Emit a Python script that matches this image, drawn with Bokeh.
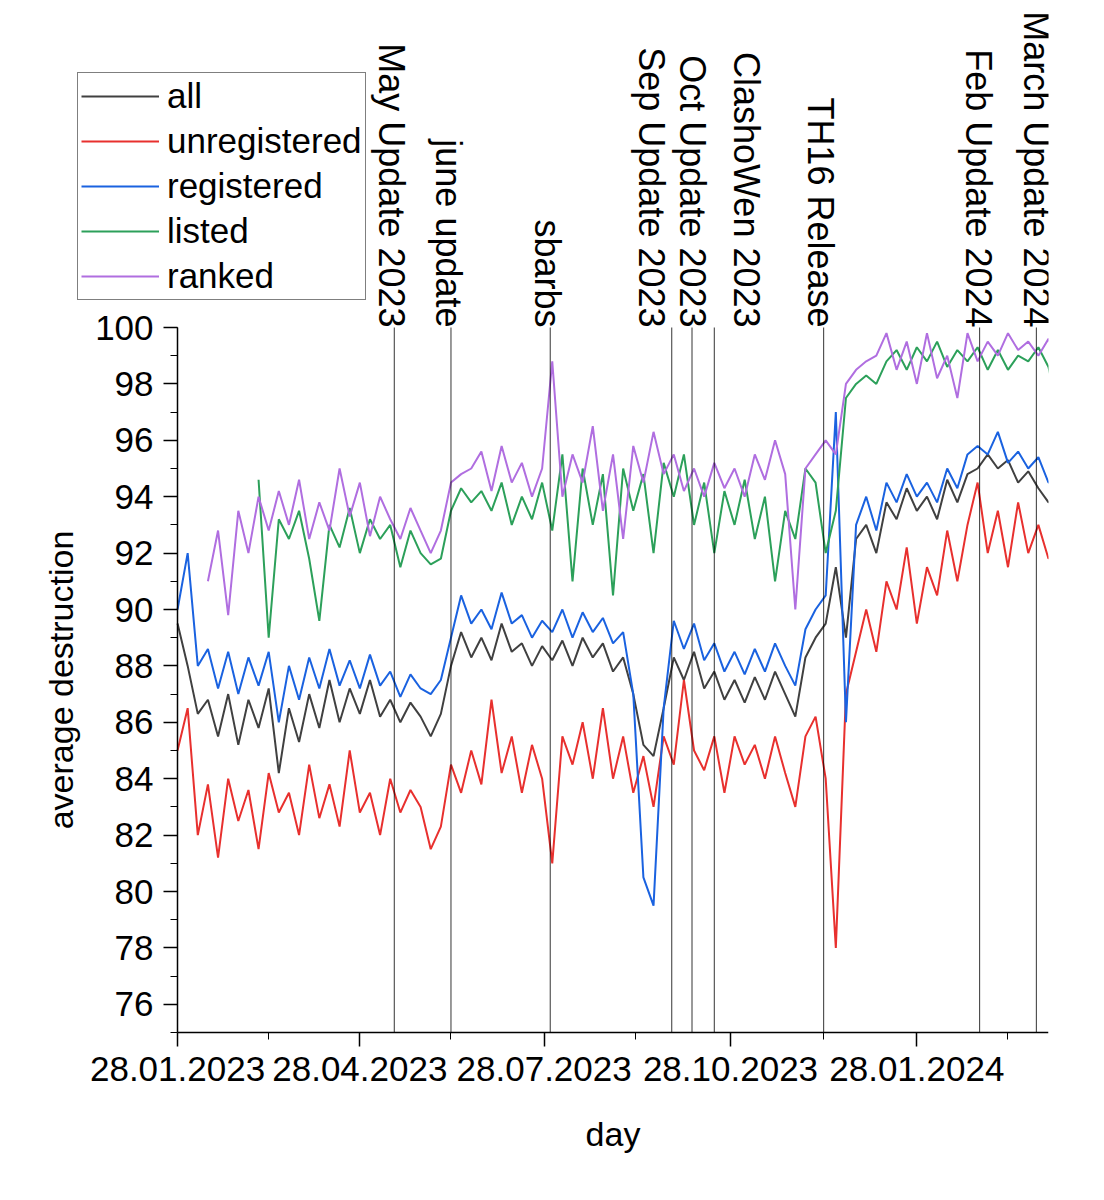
import numpy as np, pandas as pd
from bokeh.plotting import figure
from bokeh.models import Legend, LegendItem, Label, FixedTicker, DatetimeTickFormatter, Range1d, LinearAxis, DatetimeAxis
from bokeh.embed import file_html
from bokeh.resources import INLINE

start = "2023-01-28"
step_days = 5
all_v = [89.5,88.0,86.3,86.8,85.5,87.0,85.2,86.8,85.8,87.2,
 84.2,86.5,85.3,87.0,85.8,87.5,86.0,87.2,86.3,87.5,
 86.2,86.8,86.0,86.7,86.2,85.5,86.3,88.0,89.2,88.3,
 89.0,88.2,89.5,88.5,88.8,88.0,88.7,88.2,88.9,88.0,
 89.0,88.3,88.8,87.8,88.3,87.0,85.2,84.8,86.5,88.3,
 87.5,88.5,87.2,87.8,86.8,87.5,86.7,87.6,86.8,87.8,
 87.0,86.2,88.3,89.0,89.5,91.5,89.0,92.5,93.0,92.0,
 93.8,93.2,94.3,93.5,94.0,93.2,94.6,93.8,94.8,95.0,
 95.5,95.0,95.3,94.5,94.9,94.3,93.8,94.0]
unreg = [85.0,86.5,82.0,83.8,81.2,84.0,82.5,83.6,81.5,84.2,
 82.8,83.5,82.0,84.5,82.6,83.8,82.3,85.0,82.8,83.5,
 82.0,84.0,82.8,83.6,83.0,81.5,82.3,84.5,83.5,85.0,
 83.8,86.8,84.2,85.5,83.5,85.2,84.0,81.0,85.5,84.5,
 86.0,84.0,86.5,84.0,85.5,83.5,84.8,83.0,85.5,84.5,
 87.5,85.0,84.3,85.5,83.5,85.5,84.5,85.2,84.0,85.5,
 84.2,83.0,85.5,86.2,84.0,78.0,87.0,88.5,90.0,88.5,
 91.0,90.0,92.2,89.5,91.5,90.5,92.8,91.0,93.0,94.5,
 92.0,93.5,91.5,93.8,92.0,93.0,91.8,92.2]
reg = [90.0,92.0,88.0,88.6,87.2,88.5,87.0,88.3,87.3,88.5,
 86.0,88.0,86.8,88.3,87.2,88.6,87.3,88.2,87.2,88.4,
 87.3,87.8,86.9,87.7,87.2,87.0,87.5,89.0,90.5,89.5,
 90.0,89.3,90.6,89.5,89.8,89.0,89.6,89.2,90.0,89.0,
 89.9,89.2,89.7,88.8,89.2,87.0,80.5,79.5,86.5,89.6,
 88.6,89.5,88.2,88.8,87.8,88.5,87.7,88.6,87.8,88.8,
 88.0,87.3,89.3,90.0,90.5,97.0,86.0,93.0,94.0,92.8,
 94.5,93.8,94.8,94.0,94.5,93.8,95.0,94.3,95.5,95.8,
 95.5,96.3,95.2,95.6,95.0,95.4,94.5,94.5]
nan = float("nan")
listed = [nan,nan,nan,nan,nan,nan,nan,nan,94.6,89.0,
 93.2,92.5,93.5,91.8,89.6,93.0,92.2,93.6,92.0,93.2,
 92.5,93.0,91.5,92.8,92.0,91.6,91.8,93.5,94.3,93.8,
 94.2,93.5,94.5,93.0,94.0,93.2,94.5,92.8,95.5,91.0,
 95.0,93.0,94.8,90.5,95.0,93.5,94.8,92.0,95.2,94.0,
 95.5,93.0,94.5,92.0,94.2,93.0,94.6,92.5,94.0,91.0,
 93.5,92.5,95.0,94.5,92.0,93.5,97.5,98.0,98.3,98.0,
 98.8,99.2,98.5,99.3,98.8,99.5,98.6,99.2,98.8,99.3,
 98.5,99.2,98.5,99.0,98.8,99.3,98.6,97.0]
ranked = [nan,nan,nan,91.0,92.8,89.8,93.5,92.0,94.0,92.8,
 94.2,93.0,94.6,92.5,93.8,92.8,95.0,93.3,94.5,92.6,
 94.0,93.2,92.5,93.6,92.8,92.0,92.8,94.5,94.8,95.0,
 95.6,94.2,95.8,94.5,95.2,94.0,95.0,98.8,94.0,95.5,
 94.5,96.5,93.5,95.5,92.5,95.8,94.5,96.3,94.8,95.5,
 94.2,95.0,94.0,95.2,94.3,95.0,94.0,95.5,94.6,96.0,
 94.8,90.0,95.0,95.5,96.0,95.5,98.0,98.5,98.8,99.0,
 99.8,98.5,99.5,98.0,99.8,98.2,99.0,97.5,99.8,98.8,
 99.5,99.0,99.8,99.2,99.5,99.0,99.6,98.8]

event_dates = ["2023-05-15","2023-06-12","2023-07-31","2023-09-29","2023-10-09",
               "2023-10-20","2023-12-13","2024-02-28","2024-03-27"]
event_names = ["May Update 2023","june update","sbarbs","Sep Update 2023","Oct Update 2023",
               "ClashoWen 2023","TH16 Release","Feb Update 2024","March Update 2024"]
tick_dates = ["2023-01-28","2023-04-28","2023-07-28","2023-10-28","2024-01-28"]
minor_dates = ["2023-03-14","2023-06-12","2023-09-11","2023-12-13","2024-03-13"]
y_min, y_max = 75, 100
x_end = "2024-04-02"
x_title, y_title = "day", "average destruction"

series = [("all", all_v, "#404040"), ("unregistered", unreg, "#e8302e"),
          ("registered", reg, "#1a62e0"), ("listed", listed, "#2ca05a"),
          ("ranked", ranked, "#b06ee0")]

# screen shifts of the event labels (layout only)
label_shift = [-3, -2, -3, -20, 0, 32, -3, -1, 0]

x = pd.date_range(start, periods=len(all_v), freq=f"{step_days}D")
ms = lambda d: pd.Timestamp(d).value / 1e6
DAY = 86400000.0
PX = 28.2  # pixels per y unit

FONT = "Liberation Sans"
x0 = ms(start) - (177 / 2.025) * DAY
ytop = y_max + (327 - 8) / PX
ybot = y_min - (1192 - 1032) / PX
p = figure(frame_width=1048, frame_height=1184, output_backend="svg", toolbar_location=None,
           x_range=Range1d(x0, ms(x_end)), y_range=Range1d(ybot, ytop),
           x_axis_location=None, y_axis_location=None,
           min_border_left=0, min_border_top=8, min_border_right=40, min_border_bottom=0)
p.outline_line_color = None
p.grid.visible = False

items = []
for name, vals, col in series:
    r = p.line(x, vals, line_color=col, line_width=2)
    items.append(LegendItem(label=name, renderers=[r]))

ev = [ms(d) for d in event_dates]
p.segment(x0=ev, x1=ev, y0=[y_min]*len(ev), y1=[y_max]*len(ev), line_color="black", line_width=0.8)
for d, n, s in zip(ev, event_names, label_shift):
    p.add_layout(Label(x=d, y=y_max, text=n, angle=-np.pi/2, text_align="right",
                       text_baseline="middle", text_font=FONT, text_font_size="36px",
                       text_color="black", x_offset=s, y_offset=0))

xa = DatetimeAxis(bounds=(ms(start), ms(x_end)), fixed_location=y_min)
xa.ticker = FixedTicker(ticks=[ms(d) for d in tick_dates], minor_ticks=[ms(d) for d in minor_dates])
xa.formatter = DatetimeTickFormatter(days="%d.%m.%Y", months="%d.%m.%Y", years="%d.%m.%Y")
ya = LinearAxis(bounds=(y_min, y_max), fixed_location=ms(start))
ya.ticker = FixedTicker(ticks=list(range(76, 101, 2)), minor_ticks=list(range(75, 101)))
for ax in (xa, ya):
    ax.major_label_text_font = FONT
    ax.major_label_text_font_size = "35px"
    ax.major_label_text_color = "black"
    ax.axis_label_text_font = FONT
    ax.axis_label_text_font_size = "34px"
    ax.axis_label_text_font_style = "normal"
    ax.axis_label_text_color = "black"
    ax.axis_line_color = "black"
    ax.axis_line_width = 1.5
    ax.major_tick_line_color = "black"
    ax.minor_tick_line_color = "black"
    ax.major_tick_line_width = 1.5
    ax.major_tick_out = 14; ax.major_tick_in = 0
    ax.minor_tick_out = 7; ax.minor_tick_in = 0
    ax.major_label_standoff = 10
ya.axis_label = y_title
ya.axis_label_standoff = 12
p.add_layout(xa, "below")
p.add_layout(ya, "left")
# x title centred under the axis span
p.add_layout(Label(x=(ms(start) + ms(x_end)) / 2, y=y_min - (1133 - 1032) / PX, text=x_title,
                   text_align="center", text_baseline="middle", text_font=FONT,
                   text_font_size="34px", text_color="black"))

legend = Legend(items=items, location=(77, 1192 - 300), label_text_font=FONT,
                label_text_font_size="35px", label_text_color="black",
                glyph_width=78, glyph_height=36, label_height=36, label_standoff=8,
                spacing=5, padding=3, margin=0,
                border_line_color="black", border_line_width=1, background_fill_alpha=1)
p.add_layout(legend, "center")

open("out.html", "w").write(file_html(p, INLINE))
